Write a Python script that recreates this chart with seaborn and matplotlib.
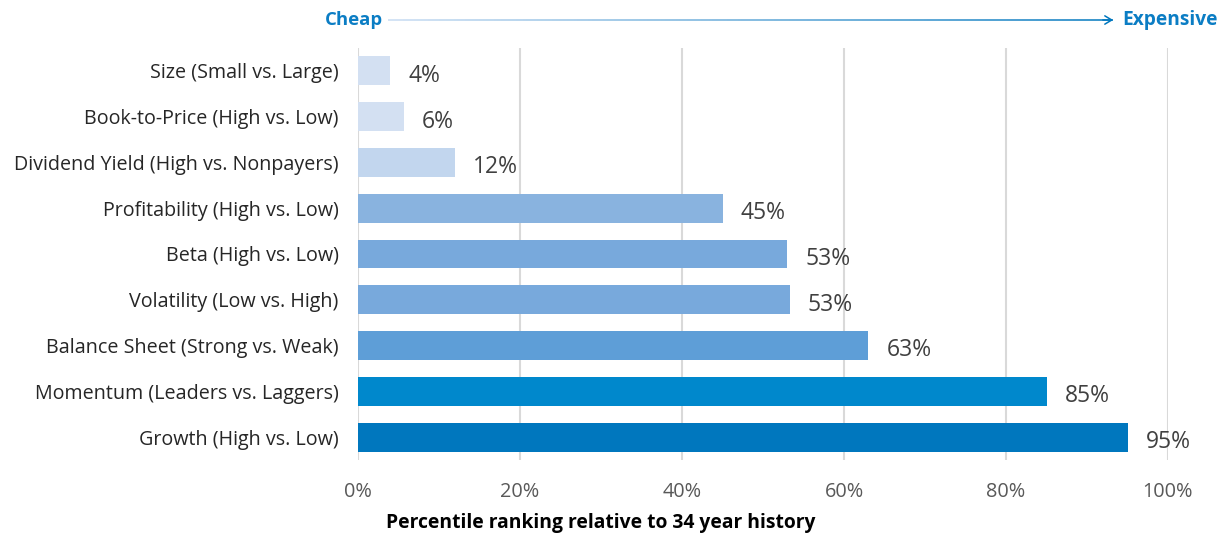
import numpy as np
import pandas as pd
import matplotlib
matplotlib.use("Agg")
import matplotlib.pyplot as plt
import seaborn as sns
from matplotlib.collections import LineCollection
from matplotlib.colors import LinearSegmentedColormap

categories = [
    "Size (Small vs. Large)",
    "Book-to-Price (High vs. Low)",
    "Dividend Yield (High vs. Nonpayers)",
    "Profitability (High vs. Low)",
    "Beta (High vs. Low)",
    "Volatility (Low vs. High)",
    "Balance Sheet (Strong vs. Weak)",
    "Momentum (Leaders vs. Laggers)",
    "Growth (High vs. Low)",
]
values = [4, 5.7, 12, 45, 53, 53.3, 63, 85, 95]
value_labels = ["4%", "6%", "12%", "45%", "53%", "53%", "63%", "85%", "95%"]
bar_colors = ["#d3e0f2", "#d3e0f2", "#c2d6ee", "#89b3df", "#78a9dc", "#78a9dc",
              "#5e9ed7", "#0088cc", "#0077be"]
xticks = [0, 20, 40, 60, 80, 100]
xtick_labels = ["0%", "20%", "40%", "60%", "80%", "100%"]

sns.set_theme(style="white")
plt.rcParams['font.family'] = ['Open Sans', 'DejaVu Sans']

fig = plt.figure(figsize=(12.28, 5.37), dpi=100)
ax = fig.add_axes([358/1228, 1-460/537, 810/1228, 412/537])

df = pd.DataFrame({"cat": categories, "val": values})
sns.barplot(data=df, x="val", y="cat", hue="cat", palette=bar_colors,
            legend=False, ax=ax, width=0.63, saturation=1, orient="h",
            linewidth=0)

ax.set_xlim(0, 100)
ax.set_ylim(8.5, -0.5)
ax.set_xticks(xticks)
ax.set_xticklabels(xtick_labels, fontsize=14.3, color="#595959")
ax.tick_params(axis="x", length=0, pad=16)
ax.tick_params(axis="y", length=0, pad=14, labelsize=14.2, labelcolor="#262626")
ax.set_ylabel("")
ax.set_xlabel("")
for s in ax.spines.values():
    s.set_visible(False)
ax.xaxis.grid(True, color="#d9d9d9", linewidth=1.5)
ax.set_axisbelow(True)

for i, (v, lab) in enumerate(zip(values, value_labels)):
    ax.annotate(lab, xy=(v, i), xytext=(13, -3.5), textcoords="offset points",
                va="center", ha="left", fontsize=16.5, color="#404040")

fig.text(601/1228, 1-523/537, "Percentile ranking relative to 34 year history",
         fontsize=13.9, fontweight="bold", color="#000000", ha="center", va="center")

# Cheap -> Expensive arrow
fig.text(325/1228, 1-20/537, "Cheap", fontsize=13.3, fontweight="bold",
         color="#0b7dc4", va="center", ha="left")
fig.text(1218/1228, 1-20/537, "Expensive", fontsize=13.8, fontweight="bold",
         color="#0b7dc4", va="center", ha="right")
cmap = LinearSegmentedColormap.from_list("g", ["#c9dcf2", "#0077be"])
xs = np.linspace(388/1228, 1113/1228, 200)
ys = np.full_like(xs, 1-20/537)
pts = np.column_stack([xs, ys]).reshape(-1, 1, 2)
segs = np.concatenate([pts[:-1], pts[1:]], axis=1)
lc = LineCollection(segs, colors=cmap(np.linspace(0, 1, len(segs))),
                    linewidths=1.1, transform=fig.transFigure)
fig.add_artist(lc)
fig.add_artist(matplotlib.patches.FancyArrowPatch(
    (1100/1228, 1-20/537), (1116/1228, 1-20/537), transform=fig.transFigure,
    arrowstyle="->,head_length=5,head_width=3", color="#0077be", lw=1.1))

fig.savefig("out.png", dpi=100)
